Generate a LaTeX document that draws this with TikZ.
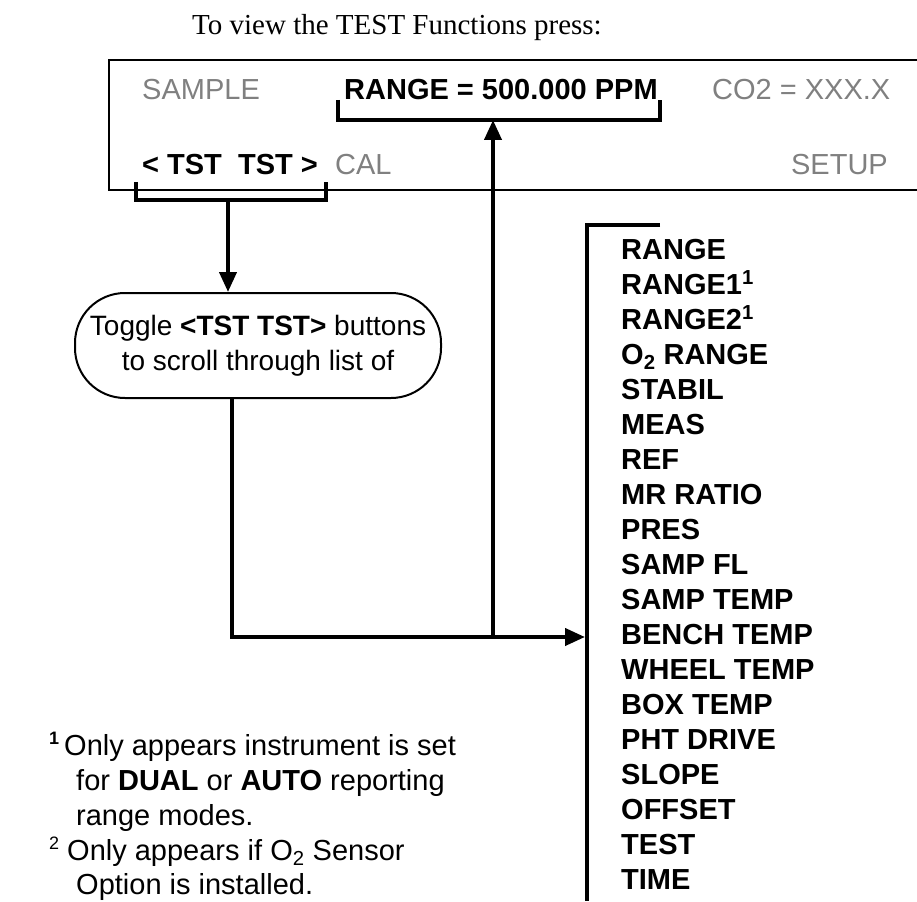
\documentclass[tikz,border=0pt]{standalone}
\usepackage{fontspec}
\setmainfont{Liberation Serif}
\setsansfont{Liberation Sans}
\usetikzlibrary{arrows.meta}
\newcommand\szz{\fontsize{29}{35}\selectfont}
\definecolor{lcdgray}{HTML}{808080}
\begin{document}
\begin{tikzpicture}[x=1pt,y=-1pt,
  txt/.style={inner sep=0pt, anchor=base west, font=\sffamily\szz},
  gtxt/.style={txt, text=lcdgray},
  btxt/.style={txt, font=\sffamily\bfseries\szz},
  thickln/.style={line width=4pt},
  arr/.style={line width=4pt, -{Triangle[length=20pt,width=17pt]}},
  bracketln/.style={line width=4pt, line join=miter}]
\useasboundingbox (0,0) rectangle (917,901);
% title
\node[inner sep=0pt, anchor=base west, font=\rmfamily\szz] (title) at (192,35) {To view the TEST Functions press:};
% display box (open on the right)
\draw[line width=2.2pt] (917,60) -- (109,60) -- (109,190) -- (917,190);
\node[gtxt] (sample) at (142,100) {SAMPLE};
\node[btxt] (range) at (344,100) {RANGE = 500.000 PPM};
\node[gtxt] (co2) at (712,100) {CO2 = XXX.X};
\node[btxt] (tst) at (142,175) {< TST\ \ TST >};
\node[gtxt] (cal) at (335,175) {CAL};
\node[gtxt, anchor=base east] (setup) at (888,175) {SETUP};
% bracket under RANGE
\coordinate (rbl) at (338,100);
\coordinate (rbr) at (660,100);
\draw[bracketln] (rbl) -- (338,120) -- (660,120) -- (rbr);
\coordinate (rtip) at (493,120);
% bracket under TST
\coordinate (tbl) at (136,182);
\coordinate (tbr) at (326,182);
\draw[bracketln] (tbl) -- (136,200) -- (326,200) -- (tbr);
\coordinate (tmid) at (228,200);
% oval
\node[draw, line width=2pt, rounded corners=50pt, minimum width=366pt, minimum height=105pt,
      align=center, font=\sffamily\fontsize{28}{35}\selectfont, inner sep=0pt] (oval) at (258,345.5)
      {Toggle \textbf{<TST TST>} buttons\\to scroll through list of};
\draw[arr] (tmid) -- (tmid |- oval.north);
% list bracket
\coordinate (ltop) at (587,225);
\coordinate (lbot) at (587,901);
\draw[bracketln] (660,225) -- (ltop) -- (lbot);
% list items
\foreach \t [count=\i from 0] in {RANGE,RANGE1\textsuperscript{1},RANGE2\textsuperscript{1},O\textsubscript{2} RANGE,STABIL,MEAS,REF,MR RATIO,PRES,SAMP FL,SAMP TEMP,BENCH TEMP,WHEEL TEMP,BOX TEMP,PHT DRIVE,SLOPE,OFFSET,TEST,TIME}
  \node[btxt] (item\i) at (621,259+35*\i) {\t};
% connectors
\coordinate (ovx) at (232,398);
\coordinate (corner) at (232,637);
\coordinate (junc) at (493,637);
\coordinate (ltip) at (585,637);
\draw[thickln] (ovx |- oval.south) -- (corner) -- (junc);
\draw[arr] (junc) -- (ltip);
\draw[arr] (junc) -- (rtip);
% footnotes
\node[txt, font=\sffamily\bfseries\fontsize{18}{20}\selectfont] (fn1m) at (49,744) {1};
\node[txt] (fn1a) at (64,755) {Only appears instrument is set};
\node[txt] (fn1b) at (76,790) {for \textbf{DUAL} or \textbf{AUTO} reporting};
\node[txt] (fn1c) at (76,825) {range modes.};
\node[txt, font=\sffamily\fontsize{18}{20}\selectfont] (fn2m) at (49,849) {2};
\node[txt] (fn2a) at (67,860) {Only appears if O\textsubscript{2} Sensor};
\node[txt] (fn2b) at (76,894) {Option is installed.};
\end{tikzpicture}
\end{document}
